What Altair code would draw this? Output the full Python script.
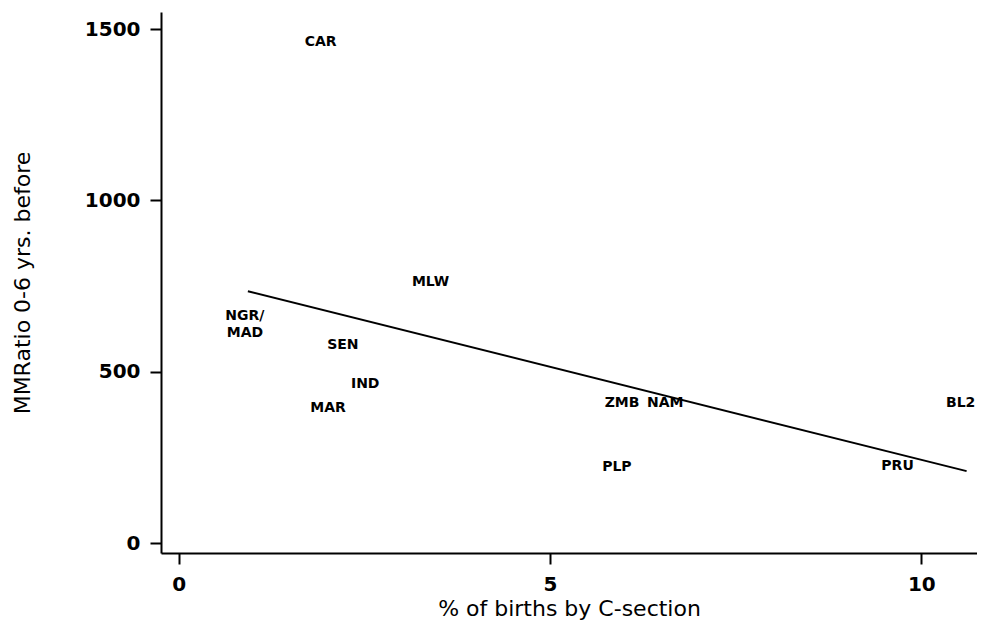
import altair as alt
import pandas as pd

# country labels (placed at their data point)
labels = ["CAR", "MLW", "NGR/\nMAD", "SEN", "IND", "MAR", "ZMB", "NAM", "PLP", "PRU", "BL2"]
csection = [1.91, 3.39, 0.89, 2.21, 2.51, 2.01, 5.97, 6.55, 5.90, 9.68, 10.53]
mmratio = [1462, 763, 662, 578, 464, 394, 408, 408, 222, 225, 408]

# fitted regression line (end points)
fit_x = [0.93, 10.61]
fit_y = [735, 210]

x_ticks = [0, 5, 10]
y_ticks = [0, 500, 1000, 1500]

pts = pd.DataFrame({"label": labels, "x": csection, "y": mmratio})
fit = pd.DataFrame({"x": fit_x, "y": fit_y})

W, H = 816, 541
xs = alt.Scale(domain=[-0.24, 10.75], nice=False, zero=False)
ys = alt.Scale(domain=[-29, 1550], nice=False, zero=False)

x_axis = alt.Axis(
    values=x_ticks, format="d", title="% of births by C-section", grid=False,
    titleY=55, titleBaseline="middle",
)
y_axis = alt.Axis(
    values=y_ticks, format="d", title="MMRatio 0-6 yrs. before", grid=False,
    titleX=-139, titleBaseline="middle",
)

line = alt.Chart(fit).mark_line(color="black", strokeWidth=2).encode(
    x=alt.X("x:Q", scale=xs, axis=x_axis),
    y=alt.Y("y:Q", scale=ys, axis=y_axis),
)

text = alt.Chart(pts).mark_text(
    font="DejaVu Sans", fontWeight="bold", fontSize=14, color="black",
    lineBreak="\n", align="center", baseline="middle", lineHeight=17,
).encode(
    x=alt.X("x:Q", scale=xs),
    y=alt.Y("y:Q", scale=ys),
    text="label:N",
)

chart = (
    alt.layer(line, text)
    .properties(
        width=W, height=H,
        autosize=alt.AutoSizeParams(type="none"),
        padding={"left": 153, "top": 4, "right": 0, "bottom": 70},
    )
    .configure_view(stroke=None)
    .configure_axis(
        domainColor="black", domainWidth=2,
        tickColor="black", tickWidth=2, tickSize=11,
        labelFont="DejaVu Sans", labelFontWeight="bold", labelFontSize=20,
        labelColor="black", labelPadding=10,
        titleFont="DejaVu Sans", titleFontWeight="normal", titleFontSize=22,
        titleColor="black",
    )
)

chart.save("out.html", embed_options={"renderer": "svg", "actions": False})
